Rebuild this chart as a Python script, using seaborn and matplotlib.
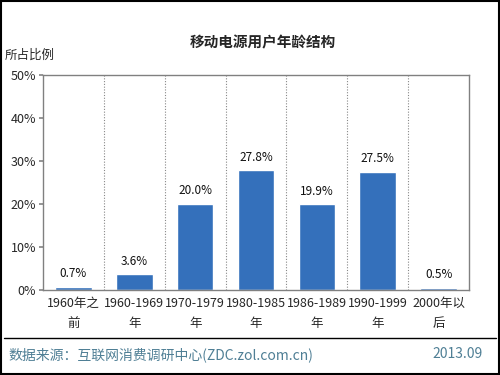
import matplotlib
matplotlib.use("Agg")
import matplotlib.pyplot as plt
import seaborn as sns
import pandas as pd

categories = ["1960年之\n前", "1960-1969\n年", "1970-1979\n年", "1980-1985\n年",
              "1986-1989\n年", "1990-1999\n年", "2000年以\n后"]
shares = [0.7, 3.6, 20.0, 27.8, 19.9, 27.5, 0.5]
yticks = [0, 10, 20, 30, 40, 50]

df = pd.DataFrame({"group": categories, "share": shares})

sns.set_theme(style="white")
plt.rcParams['font.family'] = ['Noto Sans CJK SC', 'DejaVu Sans']

fig = plt.figure(figsize=(5, 3.75), dpi=100)
ax = fig.add_axes([0.086, 0.227, 0.852, 0.573])

sns.barplot(data=df, x="group", y="share", color="#3470bb", width=0.6,
            saturation=1, ax=ax)

for i, v in enumerate(shares):
    ax.text(i, v + 1.5, f"{v:.1f}%", ha="center", va="bottom", fontsize=8.5, color="#111111")

for i in range(len(categories) - 1):
    ax.axvline(i + 0.5, color="#888888", linestyle=(0, (1, 1.5)), linewidth=0.8)

ax.set_ylim(0, 50)
ax.set_xlim(-0.5, len(categories) - 0.5)
ax.set_yticks(yticks)
ax.set_yticklabels([f"{t}%" for t in yticks], fontsize=9)
ax.tick_params(axis="y", length=3, color="#888888", pad=2, left=True)
ax.tick_params(axis="x", length=0, labelsize=9, pad=5)
for lbl in ax.get_xticklabels():
    lbl.set_linespacing(1.75)
ax.set_xlabel("")
ax.set_ylabel("")
for s in ax.spines.values():
    s.set_color("#808080")
    s.set_linewidth(1)

fig.text(0.525, 0.888, "移动电源用户年龄结构", ha="center", va="center",
         fontsize=10.5, fontweight="bold")
fig.text(0.01, 0.853, "所占比例", ha="left", va="center", fontsize=9)

fig.add_artist(plt.Line2D([0.008, 0.992], [0.099, 0.099], color="black", linewidth=1))
fig.text(0.016, 0.055, "数据来源：互联网消费调研中心(ZDC.zol.com.cn)", ha="left", va="center",
         fontsize=10, color="#4f7f95")
fig.text(0.965, 0.055, "2013.09", ha="right", va="center", fontsize=10, color="#4f7f95")

fig.patches.append(plt.Rectangle((0.002, 0.003), 0.996, 0.994, transform=fig.transFigure,
                                 fill=False, edgecolor="black", linewidth=1.5))

fig.savefig("out.png", dpi=100)
